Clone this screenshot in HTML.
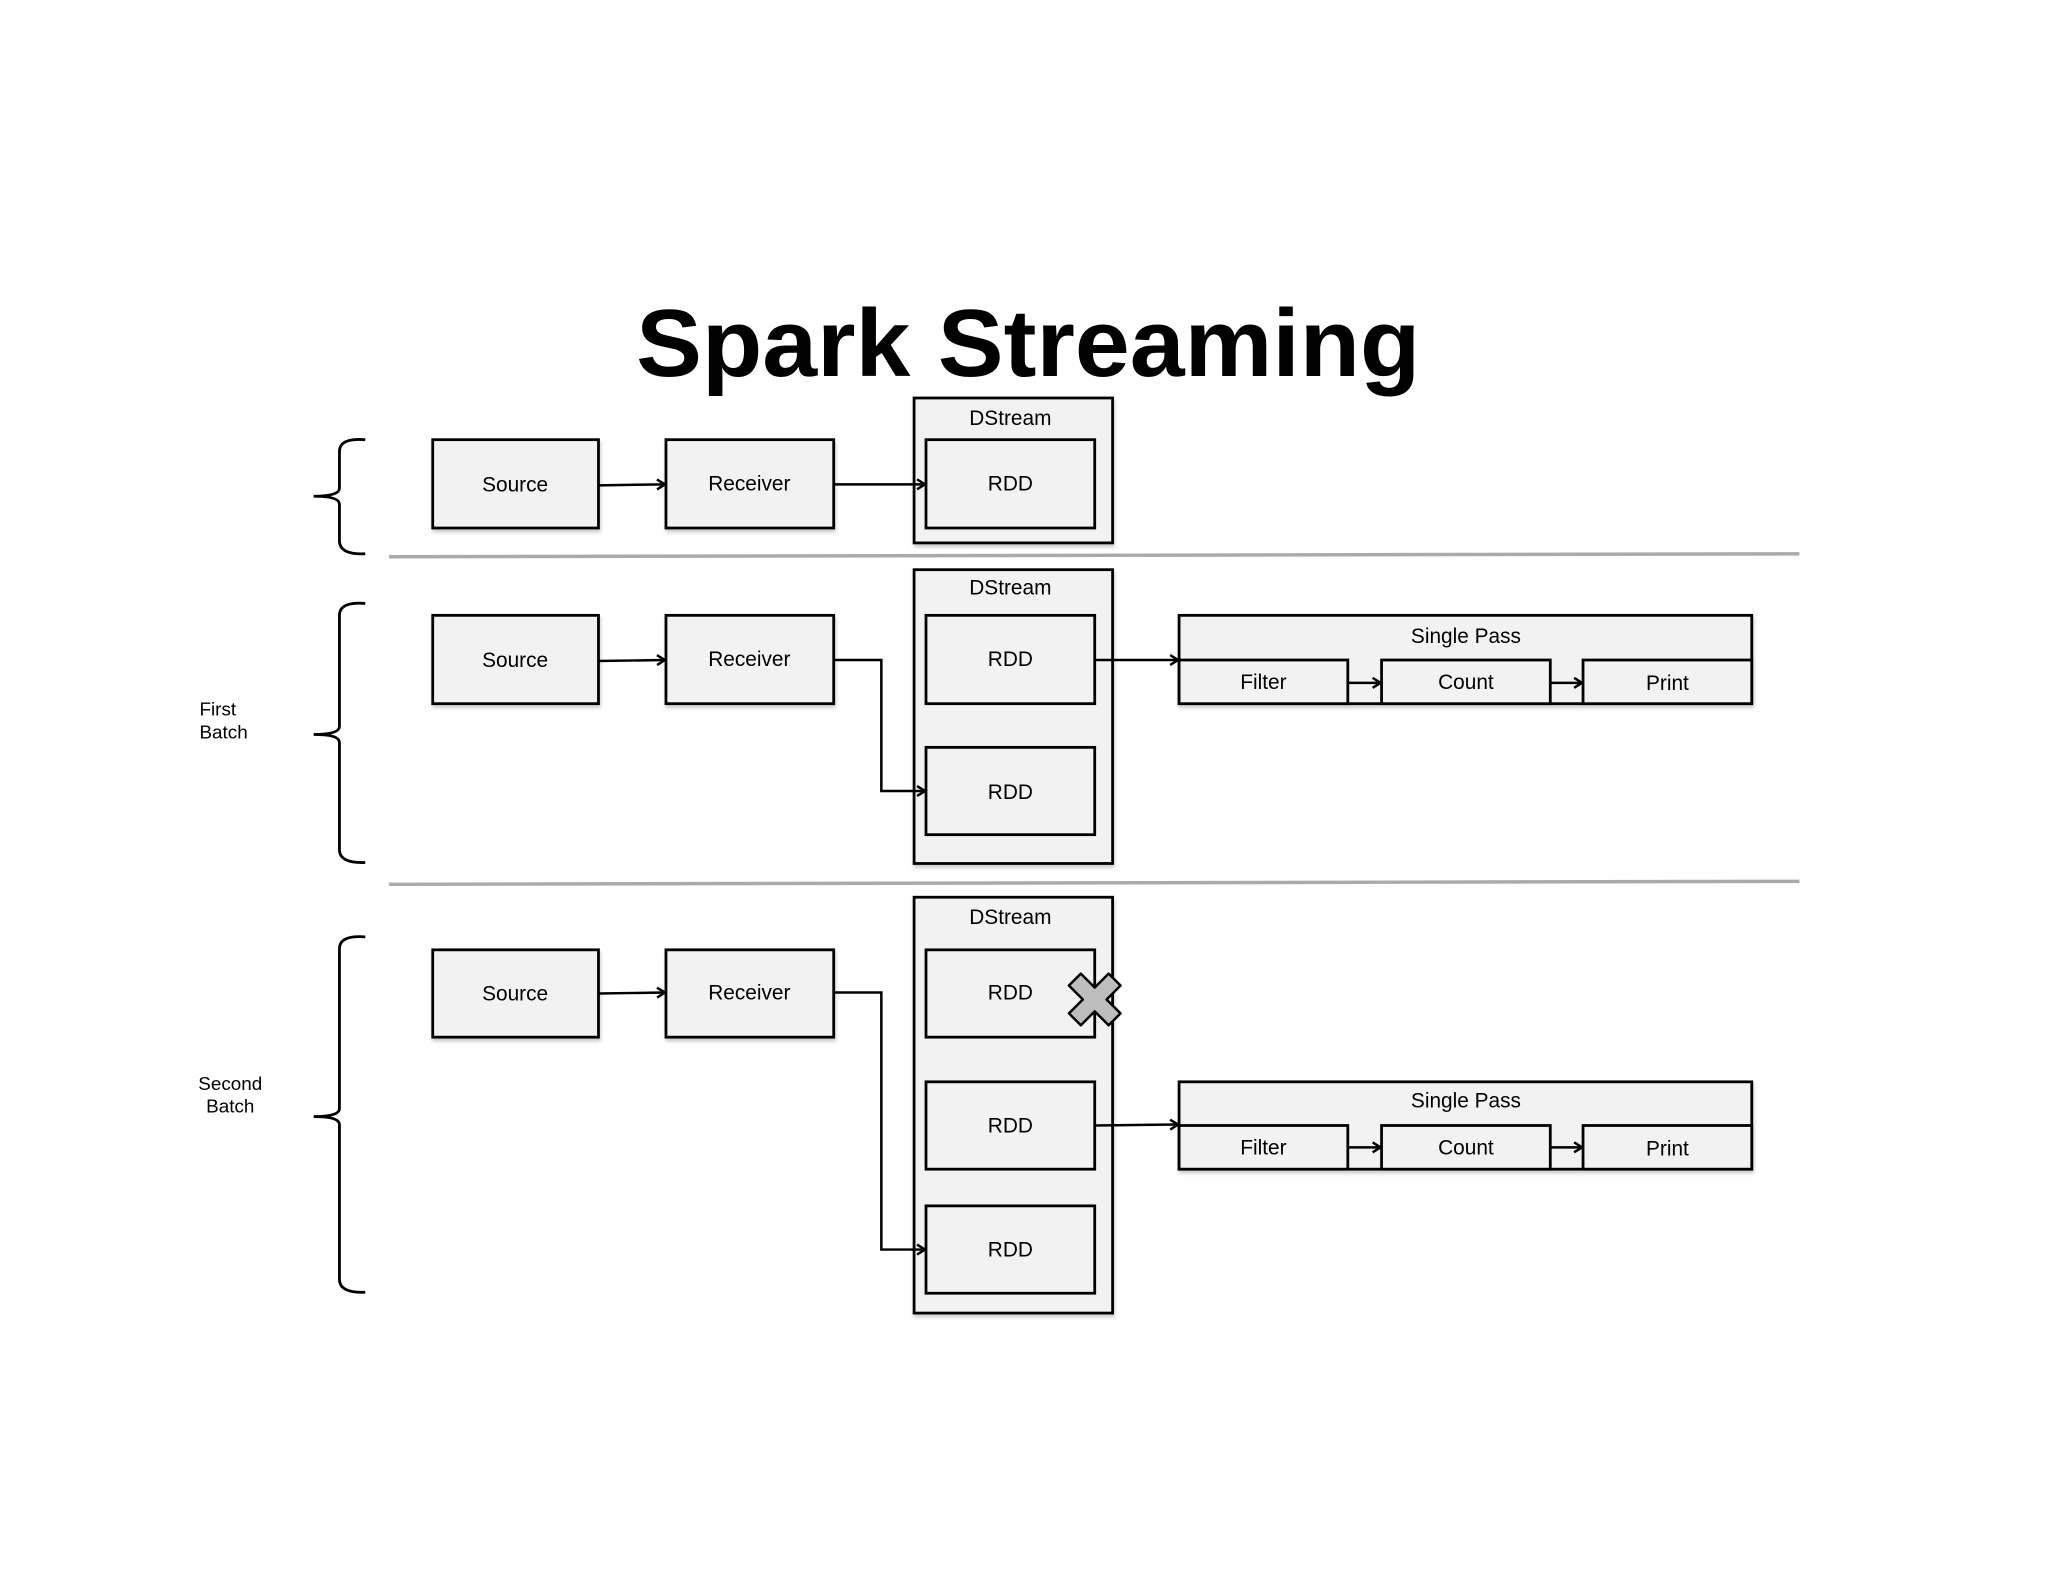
<!DOCTYPE html>
<html><head><meta charset="utf-8"><style>
html,body{margin:0;padding:0;background:#fff;}
svg{display:block;}
text{font-family:"Liberation Sans",Arial,sans-serif;fill:#000;}
</style></head><body>
<svg width="2048" height="1582" viewBox="0 0 2048 1582" xmlns="http://www.w3.org/2000/svg">
<defs>
<marker id="ar" markerWidth="12" markerHeight="12" refX="10" refY="6" orient="auto" markerUnits="userSpaceOnUse">
<path d="M2,1 L10,6 L2,11" fill="none" stroke="#000" stroke-width="2.5"/>
</marker>
<filter id="sh" x="-5%" y="-5%" width="115%" height="120%"><feDropShadow dx="1" dy="3" stdDeviation="2" flood-color="#000" flood-opacity="0.2"/></filter>
</defs>
<g transform="scale(0.9925)">
<text x="1036" y="379" font-size="96" font-weight="bold" text-anchor="middle" textLength="790" lengthAdjust="spacingAndGlyphs">Spark Streaming</text>

<g stroke="#aaa" stroke-width="3.5"><line x1="392" y1="561" x2="1813" y2="558"/><line x1="392" y1="891" x2="1813" y2="888"/></g>

<g fill="none" stroke="#000" stroke-width="2.8">
<path d="M368,443 Q342,441 342,455 L342,492 Q342,500 316,500 Q342,500 342,508 L342,545 Q342,559 368,558"/>
<path d="M368,608 Q342,606 342,620 L342,732 Q342,740 316,740 Q342,740 342,748 L342,856 Q342,870 368,869"/>
<path d="M368,944 Q342,942 342,956 L342,1117 Q342,1125 316,1125 Q342,1125 342,1133 L342,1289 Q342,1303 368,1302"/>
</g>
<text x="201" y="721" font-size="19">First</text>
<text x="201" y="744" font-size="19">Batch</text>
<text x="232" y="1098" font-size="19" text-anchor="middle">Second</text>
<text x="232" y="1121" font-size="19" text-anchor="middle">Batch</text>

<g fill="#f2f2f2" stroke="#000" stroke-width="2.8" filter="url(#sh)">
<rect x="436" y="443" width="167" height="89"/>
<rect x="671" y="443" width="169" height="89"/>
<rect x="921" y="401" width="200" height="146"/>
<rect x="436" y="620" width="167" height="89"/>
<rect x="671" y="620" width="169" height="89"/>
<rect x="921" y="574" width="200" height="296"/>
<rect x="1188" y="620" width="577" height="89"/>
<rect x="436" y="957" width="167" height="88"/>
<rect x="671" y="957" width="169" height="88"/>
<rect x="921" y="904" width="200" height="419"/>
<rect x="1188" y="1090" width="577" height="88"/>
</g>
<g fill="#f2f2f2" stroke="#000" stroke-width="2.8">
<rect x="933" y="443" width="170" height="89"/>
<rect x="933" y="620" width="170" height="89"/>
<rect x="933" y="753" width="170" height="88"/>
<rect x="933" y="957" width="170" height="88"/>
<rect x="933" y="1090" width="170" height="88"/>
<rect x="933" y="1215" width="170" height="88"/>
<rect x="1188" y="665" width="170" height="44"/>
<rect x="1392" y="665" width="170" height="44"/>
<rect x="1595" y="665" width="170" height="44"/>
<rect x="1188" y="1134" width="170" height="44"/>
<rect x="1392" y="1134" width="170" height="44"/>
<rect x="1595" y="1134" width="170" height="44"/>
</g>

<g fill="none" stroke="#000" stroke-width="2.5" marker-end="url(#ar)">
<line x1="603" y1="489" x2="670" y2="488"/>
<line x1="840" y1="488" x2="932" y2="488"/>
<line x1="603" y1="666" x2="670" y2="665"/>
<polyline points="840,665 888,665 888,797 932,797"/>
<line x1="1103" y1="665" x2="1187" y2="665"/>
<line x1="1358" y1="688" x2="1391" y2="688"/>
<line x1="1562" y1="688" x2="1594" y2="688"/>
<line x1="603" y1="1001" x2="670" y2="1000"/>
<polyline points="840,1000 888,1000 888,1259 932,1259"/>
<line x1="1103" y1="1134" x2="1187" y2="1133"/>
<line x1="1358" y1="1156" x2="1391" y2="1156"/>
<line x1="1562" y1="1156" x2="1594" y2="1156"/>
</g>

<g font-size="21" text-anchor="middle">
<text x="519" y="495">Source</text>
<text x="755" y="494">Receiver</text>
<text x="1018" y="494">RDD</text>
<text x="1018" y="428">DStream</text>
<text x="519" y="672">Source</text>
<text x="755" y="671">Receiver</text>
<text x="1018" y="599">DStream</text>
<text x="1018" y="671">RDD</text>
<text x="1018" y="805">RDD</text>
<text x="1477" y="648">Single Pass</text>
<text x="1273" y="694">Filter</text>
<text x="1477" y="694">Count</text>
<text x="1680" y="695">Print</text>
<text x="519" y="1008">Source</text>
<text x="755" y="1007">Receiver</text>
<text x="1018" y="931">DStream</text>
<text x="1018" y="1007">RDD</text>
<text x="1018" y="1141">RDD</text>
<text x="1018" y="1266">RDD</text>
<text x="1477" y="1116">Single Pass</text>
<text x="1273" y="1163">Filter</text>
<text x="1477" y="1163">Count</text>
<text x="1680" y="1164">Print</text>
</g>

<g transform="translate(1103,1007)">
<path d="M-14,-26 L0,-12 L14,-26 L26,-14 L12,0 L26,14 L14,26 L0,12 L-14,26 L-26,14 L-12,0 L-26,-14 Z" fill="#bdbdbd" stroke="#000" stroke-width="2.5" stroke-linejoin="round"/>
</g>
</g>
</svg>
</body></html>
